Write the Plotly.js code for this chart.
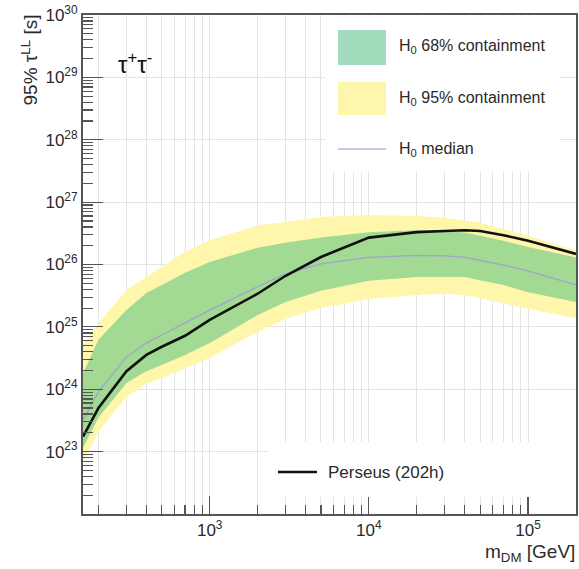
<!DOCTYPE html>
<html>
<head>
<meta charset="utf-8">
<script src="https://cdn.plot.ly/plotly-3.0.1.min.js"></script>
<style>
  html, body { margin: 0; padding: 0; background: #ffffff; }
  #chart { width: 579px; height: 569px; }
</style>
</head>
<body>
<div id="chart"></div>
<script>
// ---- data (mass in GeV, lifetime limit in s) ----
var massGeV = [160, 200, 300, 400, 500, 700, 1000, 2000, 3000, 5000, 10000, 20000, 30000, 40000, 50000, 70000, 100000, 200000];

var band95Upper = [5.1e24, 1.15e25, 3.9e25, 6.3e25, 8.9e25, 1.6e26, 2.45e26, 4.2e26, 4.8e26, 5.75e26, 6.2e26, 6.0e26, 5.6e26, 5.1e26, 4.7e26, 3.7e26, 2.9e26, 1.7e26];
var band95Lower = [6.9e22, 2.1e23, 7.6e23, 1.23e24, 1.5e24, 2.14e24, 3.16e24, 8.3e24, 1.35e25, 2.0e25, 2.8e25, 3.24e25, 3.4e25, 3.24e25, 2.9e25, 2.4e25, 1.95e25, 1.38e25];

var band68Upper = [1.8e24, 6.2e24, 1.86e25, 3.5e25, 4.7e25, 7.4e25, 1.1e26, 1.86e26, 2.24e26, 2.7e26, 3.3e26, 3.55e26, 3.45e26, 3.25e26, 2.9e26, 2.4e26, 1.9e26, 1.3e26];
var band68Lower = [1.15e23, 3.5e23, 1.26e24, 1.95e24, 2.45e24, 3.55e24, 5.5e24, 1.55e25, 2.5e25, 3.8e25, 5.5e25, 6.3e25, 6.3e25, 6.3e25, 5.6e25, 4.7e25, 3.6e25, 2.5e25];

var medianH0 = [3.2e23, 9.1e23, 3.3e24, 5.5e24, 7.4e24, 1.15e25, 1.86e25, 4.4e25, 7.1e25, 1.02e26, 1.3e26, 1.4e26, 1.38e26, 1.3e26, 1.17e26, 9.8e25, 7.9e25, 4.7e25];

var perseus202h = [1.74e23, 5.0e23, 1.95e24, 3.55e24, 4.8e24, 7.2e24, 1.29e25, 3.4e25, 6.6e25, 1.32e26, 2.7e26, 3.3e26, 3.45e26, 3.55e26, 3.45e26, 2.95e26, 2.4e26, 1.48e26];

var xTickVals = [1e3, 1e4, 1e5];
var xTickText = ['10<sup>3</sup>', '10<sup>4</sup>', '10<sup>5</sup>'];
var yTickVals = [1e23, 1e24, 1e25, 1e26, 1e27, 1e28, 1e29, 1e30];
var yTickText = ['10<sup>23</sup>', '10<sup>24</sup>', '10<sup>25</sup>', '10<sup>26</sup>', '10<sup>27</sup>', '10<sup>28</sup>', '10<sup>29</sup>', '10<sup>30</sup>'];

var legendLabels = ['H<sub>0</sub> 68% containment', 'H<sub>0</sub> 95% containment', 'H<sub>0</sub> median', 'Perseus (202h)'];

// minor tick positions (digits 2..9 of each decade)
function minorTicks(d0, d1) {
  var out = [];
  for (var d = d0; d < d1; d++) {
    for (var k = 2; k <= 9; k++) out.push(k * Math.pow(10, d));
  }
  return out;
}
var xMinorVals = minorTicks(2, 6);
var yMinorVals = minorTicks(22, 30);

// ---- styles ----
var FONT = 'Liberation Sans, Arial, Helvetica, sans-serif';
var TXT = '#2a2a2a';
var C_YELLOW = '#fdf6ab';
var C_GREEN = '#a2d993';
var C_GREEN_KEY = '#a2dcbd';
var C_MEDIAN = '#9ea3cf';
var C_AXIS = '#555555';
var C_GRID = '#e4e4e4';

var traces = [
  {x: massGeV, y: band95Lower, type: 'scatter', mode: 'lines', line: {width: 0}, showlegend: false, hoverinfo: 'skip'},
  {x: massGeV, y: band95Upper, type: 'scatter', mode: 'lines', line: {width: 0}, fill: 'tonexty', fillcolor: C_YELLOW, showlegend: false, name: 'H0 95% containment'},
  {x: massGeV, y: band68Lower, type: 'scatter', mode: 'lines', line: {width: 0}, showlegend: false, hoverinfo: 'skip'},
  {x: massGeV, y: band68Upper, type: 'scatter', mode: 'lines', line: {width: 0}, fill: 'tonexty', fillcolor: C_GREEN, showlegend: false, name: 'H0 68% containment'},
  {x: massGeV, y: medianH0, type: 'scatter', mode: 'lines', line: {width: 1.3, color: C_MEDIAN}, showlegend: false, name: 'H0 median'},
  {x: massGeV, y: perseus202h, type: 'scatter', mode: 'lines', line: {width: 2.6, color: '#111111'}, showlegend: false, name: 'Perseus (202h)'}
];

function px(x) { return (x - 83) / 493; }
function py(y) { return (514 - y) / 499; }

var shapes = [
  // legend box (top right)
  {type: 'rect', xref: 'paper', yref: 'paper', x0: px(325), x1: px(560), y0: py(172), y1: py(16), fillcolor: '#ffffff', line: {width: 0}, layer: 'above'},
  {type: 'rect', xref: 'paper', yref: 'paper', x0: px(338), x1: px(386), y0: py(65), y1: py(30), fillcolor: C_GREEN_KEY, line: {width: 0}, layer: 'above'},
  {type: 'rect', xref: 'paper', yref: 'paper', x0: px(338), x1: px(386), y0: py(115), y1: py(82), fillcolor: C_YELLOW, line: {width: 0}, layer: 'above'},
  {type: 'line', xref: 'paper', yref: 'paper', x0: px(338), x1: px(386), y0: py(149), y1: py(149), line: {width: 1.3, color: '#b4b6e2'}, layer: 'above'},
  // legend box (bottom)
  {type: 'rect', xref: 'paper', yref: 'paper', x0: px(268), x1: px(575), y0: py(497), y1: py(442), fillcolor: '#ffffff', line: {width: 0}, layer: 'above'},
  {type: 'line', xref: 'paper', yref: 'paper', x0: px(278), x1: px(317), y0: py(472), y1: py(472), line: {width: 2.6, color: '#111111'}, layer: 'above'}
];

var annotations = [
  {xref: 'paper', yref: 'paper', x: px(397), y: py(47), xanchor: 'left', yanchor: 'middle', text: legendLabels[0], showarrow: false, font: {family: FONT, size: 16, color: TXT}},
  {xref: 'paper', yref: 'paper', x: px(397), y: py(98), xanchor: 'left', yanchor: 'middle', text: legendLabels[1], showarrow: false, font: {family: FONT, size: 16, color: TXT}},
  {xref: 'paper', yref: 'paper', x: px(397), y: py(149), xanchor: 'left', yanchor: 'middle', text: legendLabels[2], showarrow: false, font: {family: FONT, size: 16, color: TXT}},
  {xref: 'paper', yref: 'paper', x: px(326), y: py(472), xanchor: 'left', yanchor: 'middle', text: legendLabels[3], showarrow: false, font: {family: FONT, size: 17, color: TXT}},
  {xref: 'paper', yref: 'paper', x: px(116), y: py(63), xanchor: 'left', yanchor: 'middle', text: 'τ<sup>+</sup>τ<sup>-</sup>', showarrow: false, font: {family: FONT, size: 24, color: '#111111'}},
  {xref: 'paper', yref: 'paper', x: px(29), y: py(13), xanchor: 'center', yanchor: 'top', textangle: -90, text: '95% τ<sup>LL</sup> [s]', showarrow: false, font: {family: FONT, size: 19, color: TXT}},
  {xref: 'paper', yref: 'paper', x: px(577), y: py(553), xanchor: 'right', yanchor: 'middle', text: 'm<sub>DM</sub> [GeV]', showarrow: false, font: {family: FONT, size: 19, color: TXT}}
];

var xRange = [Math.log10(160), Math.log10(200000)];
var yRange = [22, 30];

var layout = {
  width: 579, height: 569,
  margin: {l: 83, r: 3, t: 15, b: 55, pad: 0},
  paper_bgcolor: '#ffffff', plot_bgcolor: '#ffffff',
  font: {family: FONT, size: 17, color: TXT},
  showlegend: false,
  xaxis: {
    type: 'log', range: xRange,
    tickmode: 'array', tickvals: xTickVals, ticktext: xTickText,
    ticks: 'inside', ticklen: 18, tickwidth: 1.2, tickcolor: C_AXIS,
    showline: true, linecolor: C_AXIS, linewidth: 2, mirror: true,
    showgrid: true, gridcolor: C_GRID, gridwidth: 1,
    zeroline: false,
    tickfont: {family: FONT, size: 17, color: TXT},
    minor: {tickmode: 'array', tickvals: xMinorVals, ticks: 'inside', ticklen: 9, tickwidth: 1.2, tickcolor: C_AXIS, showgrid: true, gridcolor: C_GRID, gridwidth: 1}
  },
  yaxis: {
    type: 'log', range: yRange,
    tickmode: 'array', tickvals: yTickVals, ticktext: yTickText,
    ticks: 'inside', ticklen: 20, tickwidth: 1.2, tickcolor: C_AXIS,
    showline: true, linecolor: C_AXIS, linewidth: 2, mirror: true,
    showgrid: true, gridcolor: C_GRID, gridwidth: 1,
    zeroline: false,
    tickfont: {family: FONT, size: 17, color: TXT},
    minor: {tickmode: 'array', tickvals: yMinorVals, ticks: 'inside', ticklen: 10, tickwidth: 1.2, tickcolor: C_AXIS, showgrid: false}
  },
  shapes: shapes,
  annotations: annotations
};

Plotly.newPlot('chart', traces, layout, {staticPlot: true, displayModeBar: false});
</script>
</body>
</html>
